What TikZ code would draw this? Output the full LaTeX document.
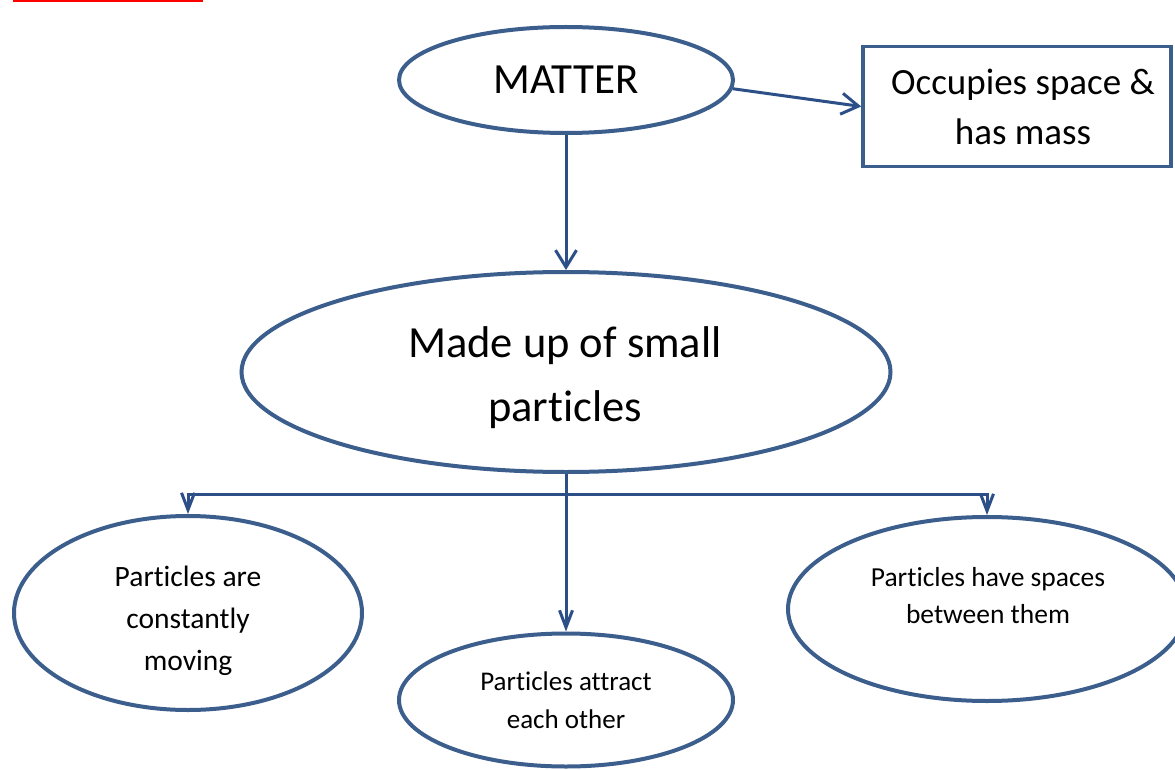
\documentclass[tikz,border=0pt]{standalone}
\usepackage{fontspec}
\setmainfont{Carlito}[Ligatures=NoCommon]
\usepackage{xcolor}
\usepackage{tikz}
\usetikzlibrary{arrows.meta,shapes.geometric,calc}
\definecolor{edgeblue}{HTML}{3B5E8C}
\definecolor{linkblue}{HTML}{2B4F86}

\begin{document}
\begin{tikzpicture}[x=1pt,y=-1pt,
  oval/.style={ellipse,draw=edgeblue,line width=4pt,fill=white,inner sep=0pt,align=center},
  words/.style={align=center,inner sep=0pt},
  link/.style={draw=linkblue,line width=3pt,-{Straight Barb[length=17pt,width=21pt,line width=3pt]}},
  smalllink/.style={draw=linkblue,line width=3pt,-{Straight Barb[length=17pt,width=13pt,line width=3pt]}}]
\useasboundingbox (0,0) rectangle (1175,770);
\fill [red] (13,0) rectangle (203,2.5);
\node [oval,minimum width=334pt,minimum height=106pt,font=\fontsize{43}{50}\selectfont] (matter) at (566,80) {MATTER};
\node [draw=edgeblue,line width=3.5pt,fill=white,minimum width=308pt,minimum height=120pt,inner sep=0pt] (mass) at (1017,106.5) {};
\node [words,font=\fontsize{37}{50}\selectfont] (masstext) at (1023,107) {Occupies space \&\\has mass};
\node [oval,minimum width=649pt,minimum height=200pt] (small) at (566,372) {};
\node [words,font=\fontsize{44.5}{64}\selectfont] (smalltext) at (565,378) {Made up of small\\particles};
\node [oval,minimum width=348pt,minimum height=194pt] (moving) at (188,613) {};
\node [words,font=\fontsize{29.5}{42}\selectfont] (movingtext) at (188,621) {Particles are\\constantly\\moving};
\node [oval,minimum width=334pt,minimum height=133pt,font=\fontsize{27}{38}\selectfont] (attract) at (566,700) {Particles attract\\each other};
\node [oval,minimum width=398pt,minimum height=184pt] (spaces) at (987,609) {};
\node [words,font=\fontsize{27.5}{37}\selectfont] (spacestext) at (988,596) {Particles have spaces\\between them};
% links
\draw [link] (matter.-3) -- (mass.west);
\draw [link] (matter.south) -- (small.north);
\coordinate (split) at ($(small.south)+(0,20)$);
\draw [draw=linkblue,line width=3pt] (small.south) -- (split);
\draw [smalllink] (split) -- (attract.north);
\draw [smalllink] (split) -| (moving.north);
\draw [smalllink] (split) -| (spaces.north);
\end{tikzpicture}
\end{document}
